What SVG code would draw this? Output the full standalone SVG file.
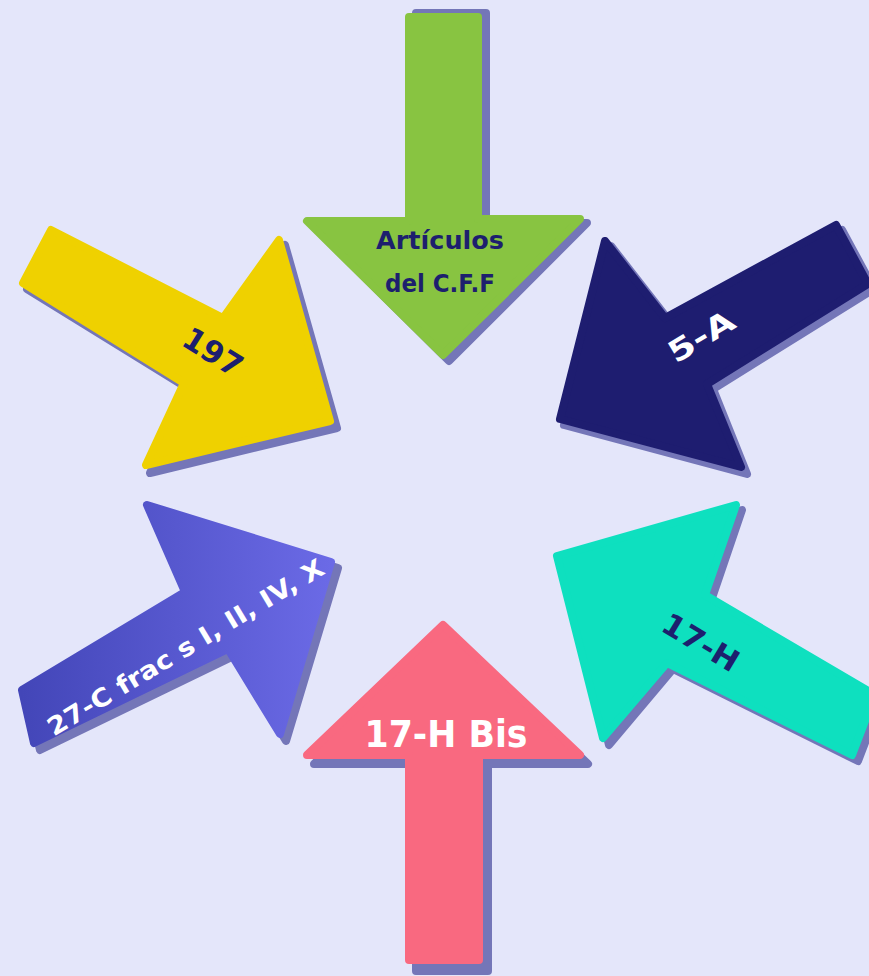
<svg xmlns="http://www.w3.org/2000/svg" width="869" height="976" viewBox="0 0 869 976">
<defs>
<linearGradient id="purpleGrad" x1="0" y1="0" x2="1" y2="0">
<stop offset="0" stop-color="#4346b8"/>
<stop offset="1" stop-color="#6b6ae6"/>
</linearGradient>
<style>
.shadow{fill:#7476b8;stroke:#7476b8;stroke-width:8;stroke-linejoin:round}
.arrow{stroke-width:8;stroke-linejoin:round}
.lbl{font-family:"DejaVu Sans","Liberation Sans",sans-serif;font-weight:bold;text-anchor:middle}
.dark{fill:#1d1f6e}
.light{fill:#ffffff}
</style>
</defs>
<rect x="0" y="0" width="869" height="976" fill="#e4e6fa"/>

<g id="node-articulos">
<polygon class="shadow" points="416,13 486,13 486,223 587,223 449,361 313,226 415,226"/>
<polygon class="arrow" fill="#88c441" stroke="#88c441" points="409,17 478,17 478,219 580,219 443,355 307,221 409,221"/>
<text class="lbl dark" x="440" y="249" font-size="24" textLength="128" lengthAdjust="spacingAndGlyphs">Artículos</text>
<text class="lbl dark" x="440" y="292" font-size="24" textLength="110" lengthAdjust="spacingAndGlyphs">del C.F.F</text>
</g>

<g id="node-197">
<polygon class="shadow" points="56,234 229,323 285,245 337,428 150,473 189,389 27,289"/>
<polygon class="arrow" fill="#efd100" stroke="#efd100" points="51,230 223,318 279,240 330,421 146,465 184,383 23,283"/>
<text class="lbl dark" font-size="31" transform="translate(213,352) rotate(32)" y="11" textLength="64" lengthAdjust="spacingAndGlyphs">197</text>
</g>

<g id="node-5a">
<polygon class="shadow" points="611,246 671,323 842,230 874,289 713,389 747,474 564,425"/>
<polygon class="arrow" fill="#1e1d70" stroke="#1e1d70" points="605,241 665,318 836,225 868,284 707,384 741,467 560,419"/>
<text class="lbl light" font-size="30" transform="translate(701,336) rotate(-31)" y="11" textLength="72" lengthAdjust="spacingAndGlyphs">5-A</text>
</g>

<g id="node-27c">
<polygon class="shadow" points="152,510 338,568 286,741 234,656 40,750 27,696 191,598"/>
<polygon class="arrow" fill="url(#purpleGrad)" stroke="url(#purpleGrad)" points="147,505 331,562 280,734 228,649 34,743 22,690 185,592"/>
<text class="lbl light" font-size="25" transform="translate(186,648) rotate(-31)" y="8" textLength="318" lengthAdjust="spacingAndGlyphs">27-C frac s I, II, IV, X</text>
</g>

<g id="node-17h">
<polygon class="shadow" points="742,510 711,601 881,701 858,761 673,669 609,745 562,561"/>
<polygon class="arrow" fill="#0ee0bf" stroke="#0ee0bf" points="736,505 705,595 875,695 852,755 667,663 603,738 557,556"/>
<text class="lbl dark" font-size="30" transform="translate(701,642) rotate(31)" y="11" textLength="84" lengthAdjust="spacingAndGlyphs">17-H</text>
</g>

<g id="node-17hbis">
<polygon class="shadow" points="450,633 588,764 488,764 488,971 416,971 416,764 314,764"/>
<polygon class="arrow" fill="#f96980" stroke="#f96980" points="443,625 580,755 479,755 479,960 409,960 409,755 307,755"/>
<text class="lbl light" x="446" y="747" font-size="37" textLength="163" lengthAdjust="spacingAndGlyphs">17-H Bis</text>
</g>

<g id="connectors"></g>
</svg>
